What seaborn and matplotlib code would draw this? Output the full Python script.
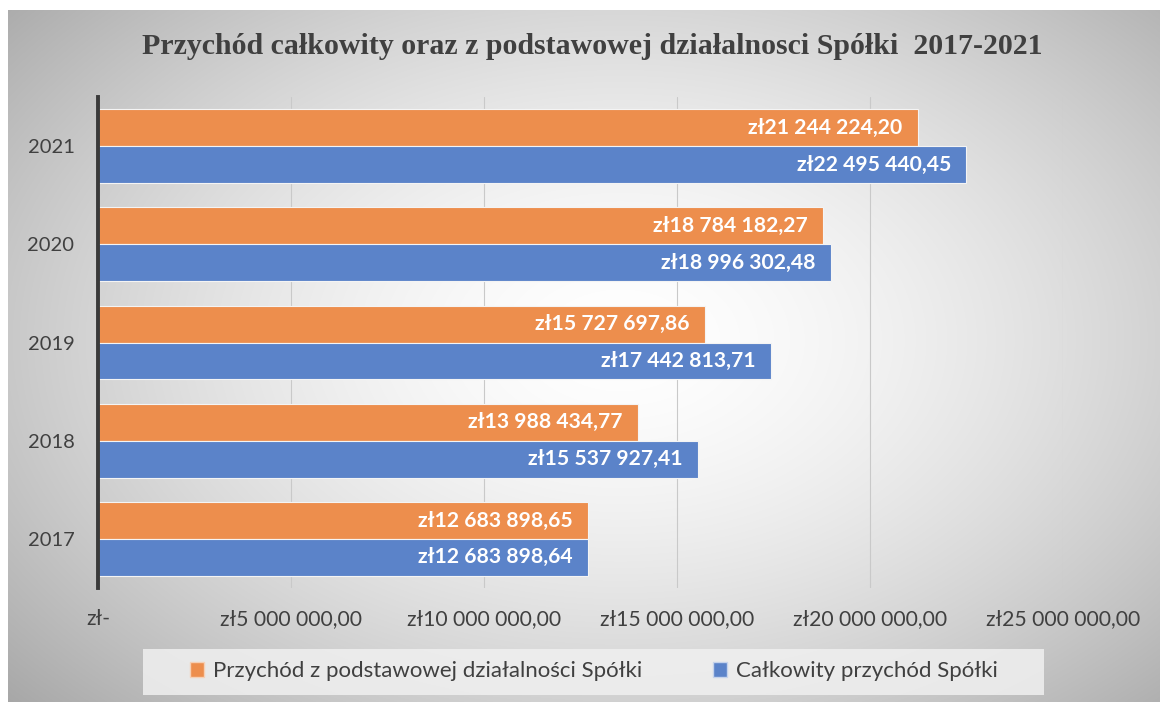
import matplotlib
matplotlib.use("Agg")
import matplotlib.pyplot as plt
import numpy as np
import pandas as pd
import seaborn as sns
from matplotlib.patches import Patch, Rectangle
from matplotlib.ticker import FuncFormatter, MultipleLocator

# dane
lata = ["2021", "2020", "2019", "2018", "2017"]
przychod_podst = [21244224.20, 18784182.27, 15727697.86, 13988434.77, 12683898.65]
przychod_calk = [22495440.45, 18996302.48, 17442813.71, 15537927.41, 12683898.64]
seria_podst = "Przychód z podstawowej działalności Spółki"
seria_calk = "Całkowity przychód Spółki"
tytul = "Przychód całkowity oraz z podstawowej działalnosci Spółki  2017-2021"

df = pd.DataFrame({
    "rok": lata * 2,
    "wartosc": przychod_podst + przychod_calk,
    "seria": [seria_podst] * 5 + [seria_calk] * 5,
})

kol_pom = "#ED8E4D"
kol_nieb = "#5B83C9"

sns.set_theme(style="white")
plt.rcParams["font.family"] = ["Lato", "DejaVu Sans"]

fig = plt.figure(figsize=(11.6, 7.02), dpi=100)

# tlo z gradientem
bg = fig.add_axes([0, 0, 1, 1], zorder=-10)
W, H = 1160, 702
xx, yy = np.meshgrid(np.arange(W), np.arange(H))
r = np.sqrt(((xx - 620) / 640.0) ** 2 + ((yy - 340) / 420.0) ** 2)
val = 1.0 - 0.23 * np.clip(r, 0, 1.3) ** 1.6
img = np.dstack([val, val, val])
img[:10, :, :] = 1.0
img[:, :8, :] = 1.0
bg.imshow(img, extent=(0, W, H, 0), aspect="auto", interpolation="bilinear")
bg.add_patch(Rectangle((143, 649), 901, 46, facecolor="#f0f0f0", edgecolor="none", alpha=0.85))
bg.set_xlim(0, W)
bg.set_ylim(H, 0)
bg.axis("off")

ax = fig.add_axes([98 / W, 1 - 588 / H, (1063 - 98) / W, (588 - 97) / H])
ax.set_facecolor("none")

sns.barplot(
    data=df, x="wartosc", y="rok", hue="seria", orient="h",
    order=lata, hue_order=[seria_podst, seria_calk],
    palette=[kol_pom, kol_nieb], width=0.75, saturation=1,
    edgecolor="#f4f4f4", linewidth=0.8, ax=ax, legend=False,
)

def zl(v):
    s = f"{v:,.2f}".replace(",", " ").replace(".", ",")
    return "zł" + s

for cont in ax.containers:
    for bar in cont:
        w = bar.get_width()
        yc = bar.get_y() + bar.get_height() / 2
        ax.annotate(zl(w), xy=(w, yc), xytext=(-11, 0), textcoords="offset points",
                    ha="right", va="center", color="white", fontsize=15.2,
                    fontweight="bold")

ax.set_xlim(0, 25000000)
ax.xaxis.set_major_locator(MultipleLocator(5000000))
ax.xaxis.set_major_formatter(FuncFormatter(lambda v, p: "zł-" if v == 0 else zl(v)))
ax.grid(axis="x", color="#c9c9c9", linewidth=0.8)
ax.set_axisbelow(True)
for s in ["top", "right", "bottom"]:
    ax.spines[s].set_visible(False)
ax.spines["left"].set_color("#3a3a3a")
ax.spines["left"].set_linewidth(2.8)
ax.tick_params(axis="x", length=0, pad=15, labelsize=15.2, labelcolor="#404040")
ax.tick_params(axis="y", length=0, pad=17, labelsize=14.5, labelcolor="#404040")
ax.set_xlabel("")
ax.set_ylabel("")

fig.text(592 / W, 1 - 47 / H, tytul, ha="center", va="center",
         fontsize=21.5, fontweight="bold", color="#404040",
         family=["Liberation Serif", "DejaVu Serif"])

uchwyty = [Patch(facecolor=kol_pom, edgecolor="#f6d0b5", label=seria_podst),
           Patch(facecolor=kol_nieb, edgecolor="#c5d3ec", label=seria_calk)]
fig.legend(handles=uchwyty, loc="center", bbox_to_anchor=(594 / W, 1 - 671 / H),
           ncol=2, frameon=False, fontsize=16, handlelength=0.63, handleheight=0.66,
           handletextpad=0.4, columnspacing=3.2, labelcolor="#404040")

fig.savefig("out.png", dpi=100)
